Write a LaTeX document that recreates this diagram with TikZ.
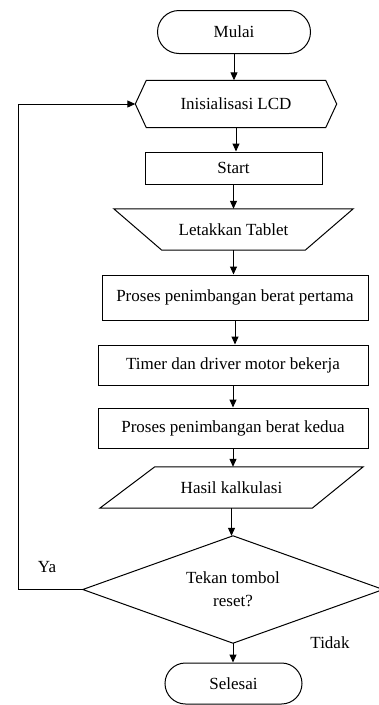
\documentclass[tikz,border=0pt]{standalone}
\usepackage{fontspec}
\setmainfont{Liberation Serif}
\usetikzlibrary{arrows.meta,shapes.misc}
\begin{document}
\begin{tikzpicture}[x=1pt,y=-1pt,
  every node/.style={font=\fontsize{17}{23}\selectfont, inner sep=0pt},
  box/.style={draw, line width=1pt, rectangle},
  plain/.style={rectangle, draw=none},
  term/.style={draw, line width=1pt, rounded rectangle},
  outl/.style={draw, line width=1pt, line join=miter},
  arr/.style={line width=1pt, -{Triangle[length=8pt,width=7pt]}}]
\useasboundingbox (0,0) rectangle (379,705);
\node[term, minimum width=153pt, minimum height=43pt] (mulai) at (234,32) {Mulai};
\node[plain, minimum width=201pt, minimum height=47pt] (init) at (236,104) {Inisialisasi LCD};
\draw[outl] (init.west) -- ([xshift=11pt]init.north west) -- ([xshift=-11pt]init.north east) -- (init.east) -- ([xshift=-11pt]init.south east) -- ([xshift=11pt]init.south west) -- cycle;
\node[box, minimum width=177pt, minimum height=32pt] (start) at (233.5,168) {Start};
\node[plain, minimum width=239pt, minimum height=41pt] (letak) at (233.5,229.5) {Letakkan Tablet};
\draw[outl] (letak.north west) -- (letak.north east) -- ([xshift=-48pt]letak.south east) -- ([xshift=48pt]letak.south west) -- cycle;
\node[box, minimum width=266pt, minimum height=45pt] (p1) at (235,297.5) {Proses penimbangan berat pertama};
\node[box, minimum width=270pt, minimum height=40pt] (timer) at (233,365) {Timer dan driver motor bekerja};
\node[box, minimum width=270pt, minimum height=40pt] (p2) at (233,428) {Proses penimbangan berat kedua};
\node[plain, minimum width=263pt, minimum height=41pt] (hasil) at (231.5,487.5) {Hasil kalkulasi};
\draw[outl] ([xshift=55pt]hasil.north west) -- (hasil.north east) -- ([xshift=-51pt]hasil.south east) -- (hasil.south west) -- cycle;
\node[plain, minimum width=300pt, minimum height=107pt, align=center] (dec) at (233,589.5) {Tekan tombol\\reset?};
\draw[outl] (dec.north) -- (dec.east) -- (dec.south) -- (dec.west) -- cycle;
\node[term, minimum width=137pt, minimum height=41pt] (selesai) at (233.5,683.5) {Selesai};
\node (ya) at (47,567) {Ya};
\node (tidak) at (330,643) {Tidak};
\coordinate (lx) at (18,0);
\draw[arr] (mulai.south) -- (mulai.south |- init.north);
\draw[arr] (init.south) -- (init.south |- start.north);
\draw[arr] (start.south) -- (start.south |- letak.north);
\draw[arr] ([xshift=0pt]letak.south) -- (letak.south |- p1.north);
\draw[arr] (p1.south) -- (p1.south |- timer.north);
\draw[arr] (timer.south) -- (timer.south |- p2.north);
\draw[arr] (p2.south) -- (p2.south |- hasil.north);
\draw[arr] (hasil.south) -- (hasil.south |- dec.north);
\draw[arr] (dec.south) -- (dec.south |- selesai.north);
\draw[arr] (dec.west) -- (dec.west -| lx) -- (init.west -| lx) -- (init.west);
\end{tikzpicture}
\end{document}
